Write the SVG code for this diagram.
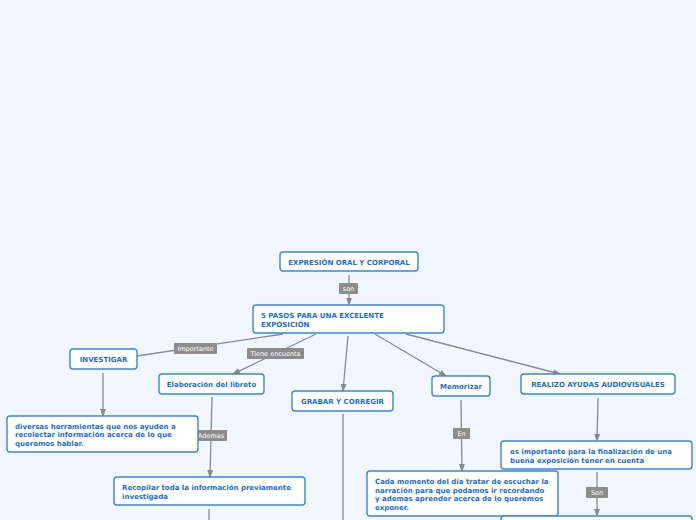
<svg xmlns="http://www.w3.org/2000/svg" width="696" height="520" viewBox="0 0 696 520">
<defs>
<marker id="ah" markerWidth="8" markerHeight="6" refX="7" refY="3" orient="auto" markerUnits="userSpaceOnUse">
<path d="M0,0 L8,3 L0,6 z" fill="#888888"/>
</marker>
<style>
.n rect{fill:#ffffff;stroke:#3a86dc;stroke-width:1.4}
.n text{font-family:"DejaVu Sans",Verdana,sans-serif;font-weight:bold;font-size:7px;fill:#1c6fd6}
.c{stroke:#8a8a8a;stroke-width:1.3;fill:none}
.a{marker-end:url(#ah)}
.lb rect{fill:#8c8c8c}
.lb text{font-family:"DejaVu Sans",Verdana,sans-serif;font-size:6.5px;fill:#ffffff;text-anchor:middle}
</style>
</defs>
<rect width="696" height="520" fill="#f2f6fe"/>
<g id="connectors">
<line class="c a" x1="349" y1="275" x2="349" y2="305"/>
<line class="c" x1="283" y1="334" x2="137" y2="356"/>
<line class="c a" x1="316" y1="334" x2="233" y2="374"/>
<line class="c a" x1="348" y1="336" x2="343" y2="391"/>
<line class="c a" x1="375" y1="334" x2="446" y2="376"/>
<line class="c a" x1="406" y1="334" x2="560" y2="374"/>
<line class="c a" x1="103" y1="373" x2="103" y2="416"/>
<line class="c a" x1="212" y1="397" x2="210" y2="477"/>
<line class="c" x1="343" y1="414" x2="343" y2="522"/>
<line class="c a" x1="461" y1="400" x2="462" y2="471"/>
<line class="c a" x1="598" y1="398" x2="597" y2="441"/>
<line class="c a" x1="597" y1="472" x2="597" y2="516"/>
<line class="c" x1="209" y1="509" x2="209" y2="522"/>
<g class="lb"><rect x="339" y="283" width="19" height="11" rx="1"/><text x="348.5" y="291">son</text></g>
<g class="lb"><rect x="174" y="343" width="43" height="11" rx="1"/><text x="195.5" y="351">Importante</text></g>
<g class="lb"><rect x="247" y="348" width="57" height="11" rx="1"/><text x="275.5" y="356">Tiene encuenta</text></g>
<g class="lb"><rect x="195" y="430" width="32" height="11" rx="1"/><text x="211" y="438">Ademas</text></g>
<g class="lb"><rect x="453" y="428" width="17" height="11" rx="1"/><text x="461.5" y="436">En</text></g>
<g class="lb"><rect x="586" y="487" width="22" height="11" rx="1"/><text x="597" y="495">Son</text></g>
</g>
<g id="n1" class="n"><rect x="280" y="252" width="138" height="19" rx="3"/><text x="349" y="264.5" text-anchor="middle">EXPRESIÓN ORAL Y CORPORAL</text></g>
<g id="n2" class="n"><rect x="253" y="305" width="191" height="28" rx="3"/><text x="261" y="318">5 PASOS PARA UNA EXCELENTE</text><text x="261" y="327">EXPOSICIÓN</text></g>
<g id="n3" class="n"><rect x="70" y="349" width="67" height="20" rx="3"/><text x="103.5" y="361.5" text-anchor="middle">INVESTIGAR</text></g>
<g id="n4" class="n"><rect x="159" y="374" width="105" height="20" rx="3"/><text x="211.5" y="386.5" text-anchor="middle">Elaboración del libreto</text></g>
<g id="n5" class="n"><rect x="292" y="391" width="101" height="20" rx="3"/><text x="342.5" y="403.5" text-anchor="middle">GRABAR Y CORREGIR</text></g>
<g id="n6" class="n"><rect x="432" y="376" width="58" height="20" rx="3"/><text x="461" y="388.5" text-anchor="middle">Memorizar</text></g>
<g id="n7" class="n"><rect x="521" y="374" width="154" height="20" rx="3"/><text x="598" y="386.5" text-anchor="middle">REALIZO AYUDAS AUDIOVISUALES</text></g>
<g id="n8" class="n"><rect x="7" y="416" width="191" height="36" rx="3"/><text x="15" y="428.5">diversas herramientas que nos ayuden a</text><text x="15" y="437">recolectar información acerca de lo que</text><text x="15" y="445.5">queremos hablar.</text></g>
<g id="n9" class="n"><rect x="114" y="477" width="191" height="28" rx="3"/><text x="122" y="490">Recopilar toda la información previamente</text><text x="122" y="498.5">investigada</text></g>
<g id="n10" class="n"><rect x="367" y="471" width="191" height="45" rx="3"/><text x="375" y="484">Cada momento del día tratar de escuchar la</text><text x="375" y="492.5">narración para que podamos ir recordando</text><text x="375" y="501">y ademas aprender acerca de lo queremos</text><text x="375" y="509.5">exponer.</text></g>
<g id="n11" class="n"><rect x="501" y="441" width="191" height="28" rx="3"/><text x="510" y="454">es importante para la finalización de una</text><text x="510" y="462.5">buena exposición tener en cuenta</text></g>
<g id="n12" class="n"><rect x="501" y="516" width="191" height="30" rx="3"/></g>
</svg>
